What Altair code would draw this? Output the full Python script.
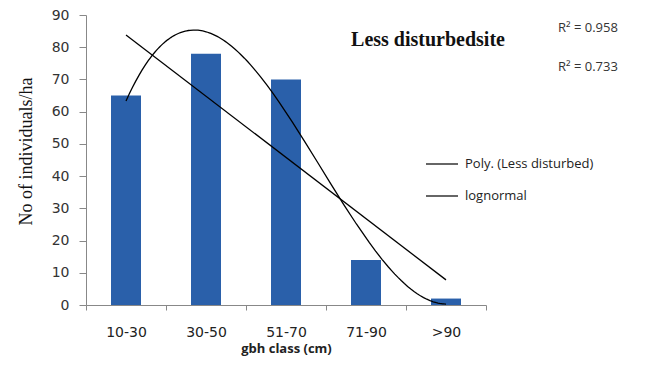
import altair as alt
import pandas as pd

categories = ["10-30", "30-50", "51-70", "71-90", ">90"]
values = [65, 78, 70, 14, 2]
series_names = ["Poly. (Less disturbed)", "lognormal"]
r2_labels = ["R\u00b2 = 0.958", "R\u00b2 = 0.733"]
title_text = "Less disturbedsite"
y_ticks = [0, 10, 20, 30, 40, 50, 60, 70, 80, 90]
x_ticks = [0.5, 1, 1.5, 2, 2.5, 3, 3.5, 4, 4.5, 5, 5.5]

df = pd.DataFrame({"idx": list(range(1, len(categories) + 1)), "value": values, "cat": categories})

label_expr = "''"
for i in range(len(categories), 0, -1):
    label_expr = f"datum.value == {i} ? '{categories[i - 1]}' : ({label_expr})"

x_axis = alt.Axis(
    values=x_ticks,
    labelExpr=label_expr,
    tickOpacity={"condition": {"test": "datum.value % 1 == 0", "value": 0}, "value": 1},
    title="gbh class  (cm)",
    titleFont="Open Sans",
    titleFontSize=13,
    titleFontWeight="bold",
    titleColor="#222",
    titlePadding=3,
    labelFont="DejaVu Sans",
    labelFontSize=14,
    labelColor="#222",
    labelPadding=15,
    labelOverlap=False,
    labelFlush=False,
    labelBound=False,
    tickSize=5,
    tickColor="#888",
    domainColor="#888",
    grid=False,
)

y_axis = alt.Axis(
    values=y_ticks,
    title="No of individuals/ha",
    titleFont="Liberation Serif",
    titleFontSize=18,
    titleFontWeight="normal",
    titleColor="#111",
    titlePadding=16,
    titleY=136,
    labelFont="DejaVu Sans",
    labelFontSize=14,
    labelColor="#333",
    labelPadding=10,
    labelOverlap=False,
    labelFlush=False,
    labelBound=False,
    tickSize=7,
    tickColor="#888",
    domainColor="#888",
    grid=False,
)

x_scale = alt.Scale(domain=[0.5, 5.5], nice=False, zero=False, padding=0)
y_scale = alt.Scale(domain=[0, 90], nice=False, padding=0)

def xe():
    return alt.X("idx:Q", scale=x_scale, axis=x_axis)

def ye():
    return alt.Y("value:Q", scale=y_scale, axis=y_axis)

base = alt.Chart(df)

bars = base.mark_bar(size=30, color="#2A60AA").encode(x=xe(), y=ye())

color_enc = alt.Color(
    "series:N",
    scale=alt.Scale(domain=series_names, range=["black", "black"]),
    legend=alt.Legend(
        title=None,
        orient="none",
        legendX=339,
        legendY=132,
        symbolType="stroke",
        symbolSize=1024,
        symbolStrokeWidth=1.2,
        labelFont="Open Sans",
        labelFontSize=13,
        labelColor="#222",
        labelOffset=6,
        rowPadding=8,
        padding=0,
    ),
)

poly = (
    base.transform_regression("idx", "value", method="poly", order=3)
    .transform_calculate(series=f"'{series_names[0]}'")
    .mark_line(strokeWidth=1.3)
    .encode(x=xe(), y=ye(), color=color_enc)
)

lin = (
    base.transform_regression("idx", "value", method="linear")
    .transform_calculate(series=f"'{series_names[1]}'")
    .mark_line(strokeWidth=1.3)
    .encode(x=xe(), y=ye(), color=color_enc)
)

title_mark = alt.Chart(pd.DataFrame({"t": [title_text]})).mark_text(
    font="Liberation Serif", fontSize=20, fontWeight="bold", color="#111", align="center", baseline="middle"
).encode(x=alt.value(342), y=alt.value(25), text="t:N")

r2a = alt.Chart(pd.DataFrame({"t": [r2_labels[0]]})).mark_text(
    font="Open Sans", fontSize=13, color="#333", align="left", baseline="middle"
).encode(x=alt.value(472), y=alt.value(13), text="t:N")

r2b = alt.Chart(pd.DataFrame({"t": [r2_labels[1]]})).mark_text(
    font="Open Sans", fontSize=13, color="#333", align="left", baseline="middle"
).encode(x=alt.value(472), y=alt.value(52), text="t:N")

chart = (
    alt.layer(bars, poly, lin, title_mark, r2a, r2b)
    .properties(
        width=400,
        height=290,
        autosize=alt.AutoSizeParams(type="none"),
        padding={"left": 78, "top": 7, "right": 152, "bottom": 54},
    )
    .configure_view(stroke=None)
)

chart.save("out.html", embed_options={"renderer": "svg", "actions": False})
